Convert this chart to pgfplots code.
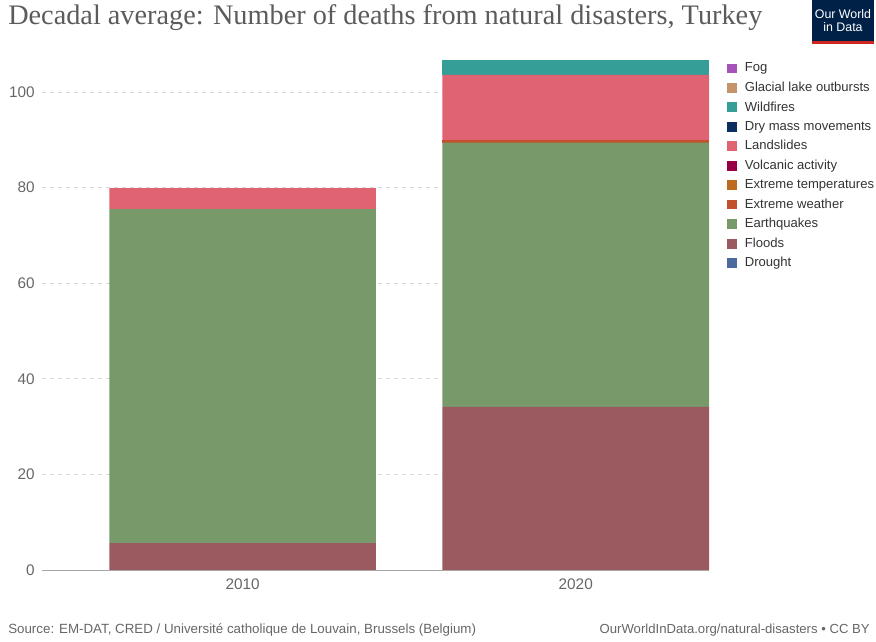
\documentclass[border=0pt]{standalone}
\usepackage{pgfplots}
\pgfplotsset{compat=1.18}
\usepackage{fontspec}
\setmainfont{Liberation Sans}
\newfontfamily\titlefont{Liberation Serif}
\definecolor{cFog}{HTML}{A652BA}
\definecolor{cGlacial}{HTML}{C4956A}
\definecolor{cWild}{HTML}{349E97}
\definecolor{cDry}{HTML}{0B2F5F}
\definecolor{cLand}{HTML}{DF6371}
\definecolor{cVolc}{HTML}{970046}
\definecolor{cTemp}{HTML}{BC6A1E}
\definecolor{cWeath}{HTML}{C2502A}
\definecolor{cQuake}{HTML}{789A6B}
\definecolor{cFlood}{HTML}{9B5A5F}
\definecolor{cDrought}{HTML}{4C6A9C}
\definecolor{txtgray}{HTML}{5B5B5B}
\definecolor{tickgray}{HTML}{666666}
\definecolor{owidblue}{HTML}{002147}
\definecolor{owidred}{HTML}{CE261E}
\pgfplotstableread{
x Drought Floods Quakes Weather Temps Volc Land Dry Wild Glacial Fog
0 0 5.6 69.9 0 0 0 4.4 0 0 0 0
1 0 34.1 55.3 0.6 0 0 13.6 0 3.0 0 0
}\datatable
\begin{document}
\begin{tikzpicture}[x=1pt,y=1pt]
\path[use as bounding box] (-31.5,-54) rectangle (625.5,427.5);
\begin{axis}[
  at={(0,0)}, anchor=south west,
  scale only axis, width=500.25pt, height=387.2pt,
  ybar stacked, bar width=0.8,
  xmin=-0.602, xmax=1.4, ymin=0, ymax=108,
  xtick={0,1}, xticklabels={2010,2020},
  ytick={0,20,40,60,80,100},
  /pgf/number format/assume math mode=true,
  tick label style={font=\fontsize{11.5}{13}\selectfont, text=tickgray},
  major tick length=0pt,
  axis x line*=bottom, axis y line*=left,
  x axis line style={draw=gray!70, line width=0.6pt},
  y axis line style={draw=none},
  ymajorgrids, grid style={dashed, draw=gray!30, line width=0.5pt},
  yticklabel style={anchor=east, xshift=-2pt},
  xticklabel style={yshift=-3pt},
  legend style={at={(1.02,0.993)}, anchor=north west, draw=none, fill=none,
     font=\fontsize{9.8}{11}\selectfont, text=black!80, row sep=2.1pt,
     /tikz/every odd column/.append style={column sep=4.2pt}},
  legend cell align=left,
  reverse legend,
  legend image code/.code={\fill[#1] (0pt,-3.7pt) rectangle (7.5pt,3.7pt);},
  every axis plot/.append style={draw=none},
]
\addplot[fill=cDrought] table[x=x,y=Drought]{\datatable};
\addplot[fill=cFlood] table[x=x,y=Floods]{\datatable};
\addplot[fill=cQuake] table[x=x,y=Quakes]{\datatable};
\addplot[fill=cWeath] table[x=x,y=Weather]{\datatable};
\addplot[fill=cTemp] table[x=x,y=Temps]{\datatable};
\addplot[fill=cVolc] table[x=x,y=Volc]{\datatable};
\addplot[fill=cLand] table[x=x,y=Land]{\datatable};
\addplot[fill=cDry] table[x=x,y=Dry]{\datatable};
\addplot[fill=cWild] table[x=x,y=Wild]{\datatable};
\addplot[fill=cGlacial] table[x=x,y=Glacial]{\datatable};
\addplot[fill=cFog] table[x=x,y=Fog]{\datatable};
\legend{Drought,Floods,Earthquakes,Extreme weather,Extreme temperatures,Volcanic activity,Landslides,Dry mass movements,Wildfires,Glacial lake outbursts,Fog}
\end{axis}
% title
\node[anchor=base west, text=txtgray, inner sep=0pt, font=\titlefont\fontsize{21.2}{24}\selectfont] at (-25.5,409) {Decadal average: Number of deaths from natural disasters, Turkey};
% footer
\node[anchor=base west, text=tickgray, inner sep=0pt, font=\fontsize{10}{11}\selectfont] at (-25.5,-47.5) {Source: EM-DAT, CRED / Université catholique de Louvain, Brussels (Belgium)};
\node[anchor=base east, text=tickgray, inner sep=0pt, font=\fontsize{9.85}{11}\selectfont] at (621,-47.5) {OurWorldInData.org/natural-disasters • CC BY};
% logo
\fill[owidblue] (577.5,394.5) rectangle (624,427.5);
\fill[owidred] (577.5,394.5) rectangle (624,397);
\node[text=white, align=center, inner sep=0pt, font=\fontsize{9.3}{10}\selectfont] at (600.75,412) {Our World\\in Data};
\end{tikzpicture}
\end{document}
